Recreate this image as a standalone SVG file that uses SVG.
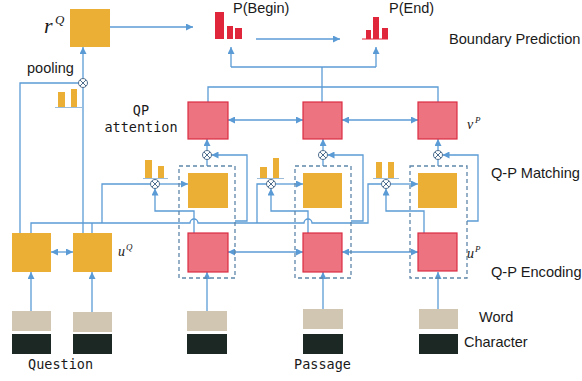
<svg xmlns="http://www.w3.org/2000/svg" width="582" height="381" viewBox="0 0 582 381">
<defs>
<marker id="ah" viewBox="0 0 8 8" refX="8" refY="4" markerWidth="7" markerHeight="7" markerUnits="userSpaceOnUse" orient="auto-start-reverse"><path d="M0,0 L8,4 L0,8 z" fill="#5B9BD5"/></marker>
<g id="ot"><circle r="4.5" fill="#fff" stroke="#4F6E8E" stroke-width="1"/><path d="M-3,-3L3,3M-3,3L3,-3" stroke="#4F6E8E" stroke-width="1"/></g>
</defs>
<style>
.y{fill:#ECAF36}
.r{fill:#EC737F;stroke:#DA2D43;stroke-width:1.2}
.w{fill:#D1C6B2}
.c{fill:#1B2823}
.ln{fill:none;stroke:#5B9BD5;stroke-width:1.3}
.ar{marker-end:url(#ah)}
.da{marker-start:url(#ah);marker-end:url(#ah)}
.dash{fill:none;stroke:#5E86A9;stroke-width:1.3;stroke-dasharray:4 3}
.t{font-family:"Liberation Sans",Arial,sans-serif;font-size:14.5px;fill:#1a1a1a}
.tl{font-family:"Liberation Sans",Arial,sans-serif;font-size:14.6px;fill:#1a1a1a}
.m{font-family:"DejaVu Sans Mono",monospace;font-size:13.5px;fill:#1a1a1a}
.s{font-family:"Liberation Serif",serif;font-style:italic;fill:#1a1a1a}
.bar{fill:#ECAF36}
.rb{fill:#E0263A}
.base{stroke:#9DBCD8;stroke-width:1}
.rbase{stroke:#E0263A;stroke-width:1}
</style>

<g id="connectors">
<path class="ln ar" d="M110,27 H193"/>
<path class="ln" d="M20,233 V83 H78.5"/>
<path class="ln" d="M83,87.5 V245"/>
<path class="ln ar" d="M83,78.5 V47"/>
<path class="ln da" d="M51,252 H73"/>
<path class="ln ar" d="M31,311 V272"/>
<path class="ln ar" d="M92,312 V272"/>
<path class="ln ar" d="M207,311 V272"/>
<path class="ln ar" d="M323,309 V272"/>
<path class="ln ar" d="M438,309 V272"/>
<path class="ln" d="M31,233 V223 H190 a4,4 0 0 1 8,0 H304 a4,4 0 0 1 8,0 H368 V184 H381.5"/>
<path class="ln ar" d="M390.5,184 H418"/>
<path class="ln" d="M92,233 V223"/>
<path class="ln" d="M102,223 V184 H150.5"/>
<path class="ln ar" d="M159.5,184 H188"/>
<path class="ln" d="M257,223 V184 H266.5"/>
<path class="ln ar" d="M275.5,184 H303"/>
<path class="ln ar" d="M194,233 V211 H155 V188.5"/>
<path class="ln ar" d="M308,233 V211 H271 V188.5"/>
<path class="ln ar" d="M424,233 V211 H386 V188.5"/>
<path class="ln ar" d="M235,221 H247 V155 H211.5"/>
<path class="ln ar" d="M351,221 H363 V155 H327.5"/>
<path class="ln ar" d="M467,221 H478 V155 H442.5"/>
<path class="ln" d="M207,166 V159.5"/>
<path class="ln ar" d="M207,150.5 V139"/>
<path class="ln" d="M323,166 V159.5"/>
<path class="ln ar" d="M323,150.5 V139"/>
<path class="ln" d="M438,166 V159.5"/>
<path class="ln ar" d="M438,150.5 V139"/>
<path class="ln da" d="M228,120 H303"/>
<path class="ln da" d="M342,120 H418"/>
<path class="ln da" d="M228,252 H303"/>
<path class="ln da" d="M342,252 H418"/>
<path class="ln" d="M208,102 V87 H438 V102"/>
<path class="ln" d="M322,102 V67"/>
<path class="ln" d="M231,67 H376"/>
<path class="ln ar" d="M231,67 V47"/>
<path class="ln ar" d="M376,67 V47"/>
<path class="ln ar" d="M256,39 H340"/>
</g>

<g id="rQ"><rect class="y" x="70" y="9" width="40" height="38"/>
<text class="s" x="44" y="33" font-size="22">r</text><text class="s" x="55" y="24" font-size="13">Q</text></g>

<g id="pooling"><text class="t" x="27" y="73">pooling</text>
<rect class="bar" x="58" y="92" width="7" height="15"/><rect class="bar" x="71" y="89" width="6" height="18"/>
<line class="base" x1="55" y1="107.5" x2="82" y2="107.5"/>
<use href="#ot" x="83" y="83"/></g>

<g id="pbegin"><rect class="rb" x="215" y="12" width="9" height="27"/><rect class="rb" x="227" y="26" width="6" height="13"/><rect class="rb" x="235" y="28" width="7" height="11"/>
<text class="t" x="233" y="13">P(Begin)</text></g>
<g id="pend"><rect class="rb" x="366" y="30" width="5" height="9"/><rect class="rb" x="373" y="17" width="6" height="22"/><rect class="rb" x="382" y="28" width="6" height="11"/>
<line class="rbase" x1="362" y1="39" x2="388" y2="39"/>
<text class="t" x="389" y="13">P(End)</text></g>
<text class="tl" x="449" y="44">Boundary Prediction</text>

<g id="qpatt-label"><text class="m" x="141" y="115" text-anchor="middle">QP</text><text class="m" x="141" y="132" text-anchor="middle">attention</text></g>
<g id="att1"><rect class="r" x="188" y="102" width="40" height="37"/></g>
<g id="att2"><rect class="r" x="303" y="102" width="39" height="37"/></g>
<g id="att3"><rect class="r" x="418" y="102" width="39" height="37"/>
<text class="s" x="467" y="129" font-size="14">v</text><text class="s" x="475" y="123" font-size="9">P</text></g>

<g id="otimes-att"><use href="#ot" x="207" y="155"/><use href="#ot" x="323" y="155"/><use href="#ot" x="438" y="155"/></g>

<g id="dash1"><rect class="dash" x="179" y="166" width="56" height="112"/></g>
<g id="dash2"><rect class="dash" x="295" y="166" width="56" height="112"/></g>
<g id="dash3"><rect class="dash" x="410" y="166" width="57" height="112"/></g>

<g id="match1"><rect class="y" x="188" y="173" width="40" height="35"/></g>
<g id="match2"><rect class="y" x="303" y="173" width="39" height="35"/></g>
<g id="match3"><rect class="y" x="418" y="173" width="39" height="35"/></g>

<g id="attw1"><rect class="bar" x="145" y="160" width="7" height="18"/><rect class="bar" x="158" y="166" width="6" height="12"/><line class="base" x1="143" y1="178.5" x2="168" y2="178.5"/><use href="#ot" x="155" y="184"/></g>
<g id="attw2"><rect class="bar" x="260" y="167" width="7" height="11"/><rect class="bar" x="273" y="158" width="6" height="20"/><line class="base" x1="257" y1="178.5" x2="284" y2="178.5"/><use href="#ot" x="271" y="184"/></g>
<g id="attw3"><rect class="bar" x="376" y="162" width="6" height="16"/><rect class="bar" x="388" y="162" width="6" height="16"/><line class="base" x1="373" y1="178.5" x2="399" y2="178.5"/><use href="#ot" x="386" y="184"/></g>

<text class="tl" x="491" y="178">Q-P Matching</text>
<text class="tl" x="491" y="277">Q-P Encoding</text>

<g id="enc1"><rect class="r" x="188" y="233" width="40" height="39"/></g>
<g id="enc2"><rect class="r" x="303" y="233" width="39" height="39"/></g>
<g id="enc3"><rect class="r" x="418" y="233" width="39" height="38"/>
<text class="s" x="467" y="258" font-size="14">u</text><text class="s" x="475" y="252" font-size="9">P</text></g>

<g id="q1"><rect class="y" x="12" y="233" width="39" height="39"/></g>
<g id="q2"><rect class="y" x="73" y="233" width="39" height="39"/>
<text class="s" x="118" y="256" font-size="14">u</text><text class="s" x="126" y="250" font-size="9">Q</text></g>

<g id="emb-q1"><rect class="w" x="12" y="311" width="39" height="20"/><rect class="c" x="12" y="334" width="39" height="20"/></g>
<g id="emb-q2"><rect class="w" x="73" y="312" width="39" height="20"/><rect class="c" x="73" y="334" width="39" height="20"/></g>
<g id="emb-p1"><rect class="w" x="187" y="311" width="40" height="20"/><rect class="c" x="187" y="334" width="40" height="20"/></g>
<g id="emb-p2"><rect class="w" x="303" y="309" width="40" height="20"/><rect class="c" x="303" y="334" width="40" height="20"/></g>
<g id="emb-p3"><rect class="w" x="419" y="309" width="39" height="20"/><rect class="c" x="419" y="334" width="39" height="20"/></g>

<text class="t" x="479" y="322">Word</text>
<text class="t" x="464" y="347">Character</text>
<text class="m" x="28" y="369">Question</text>
<text class="m" x="294" y="369">Passage</text>
</svg>
